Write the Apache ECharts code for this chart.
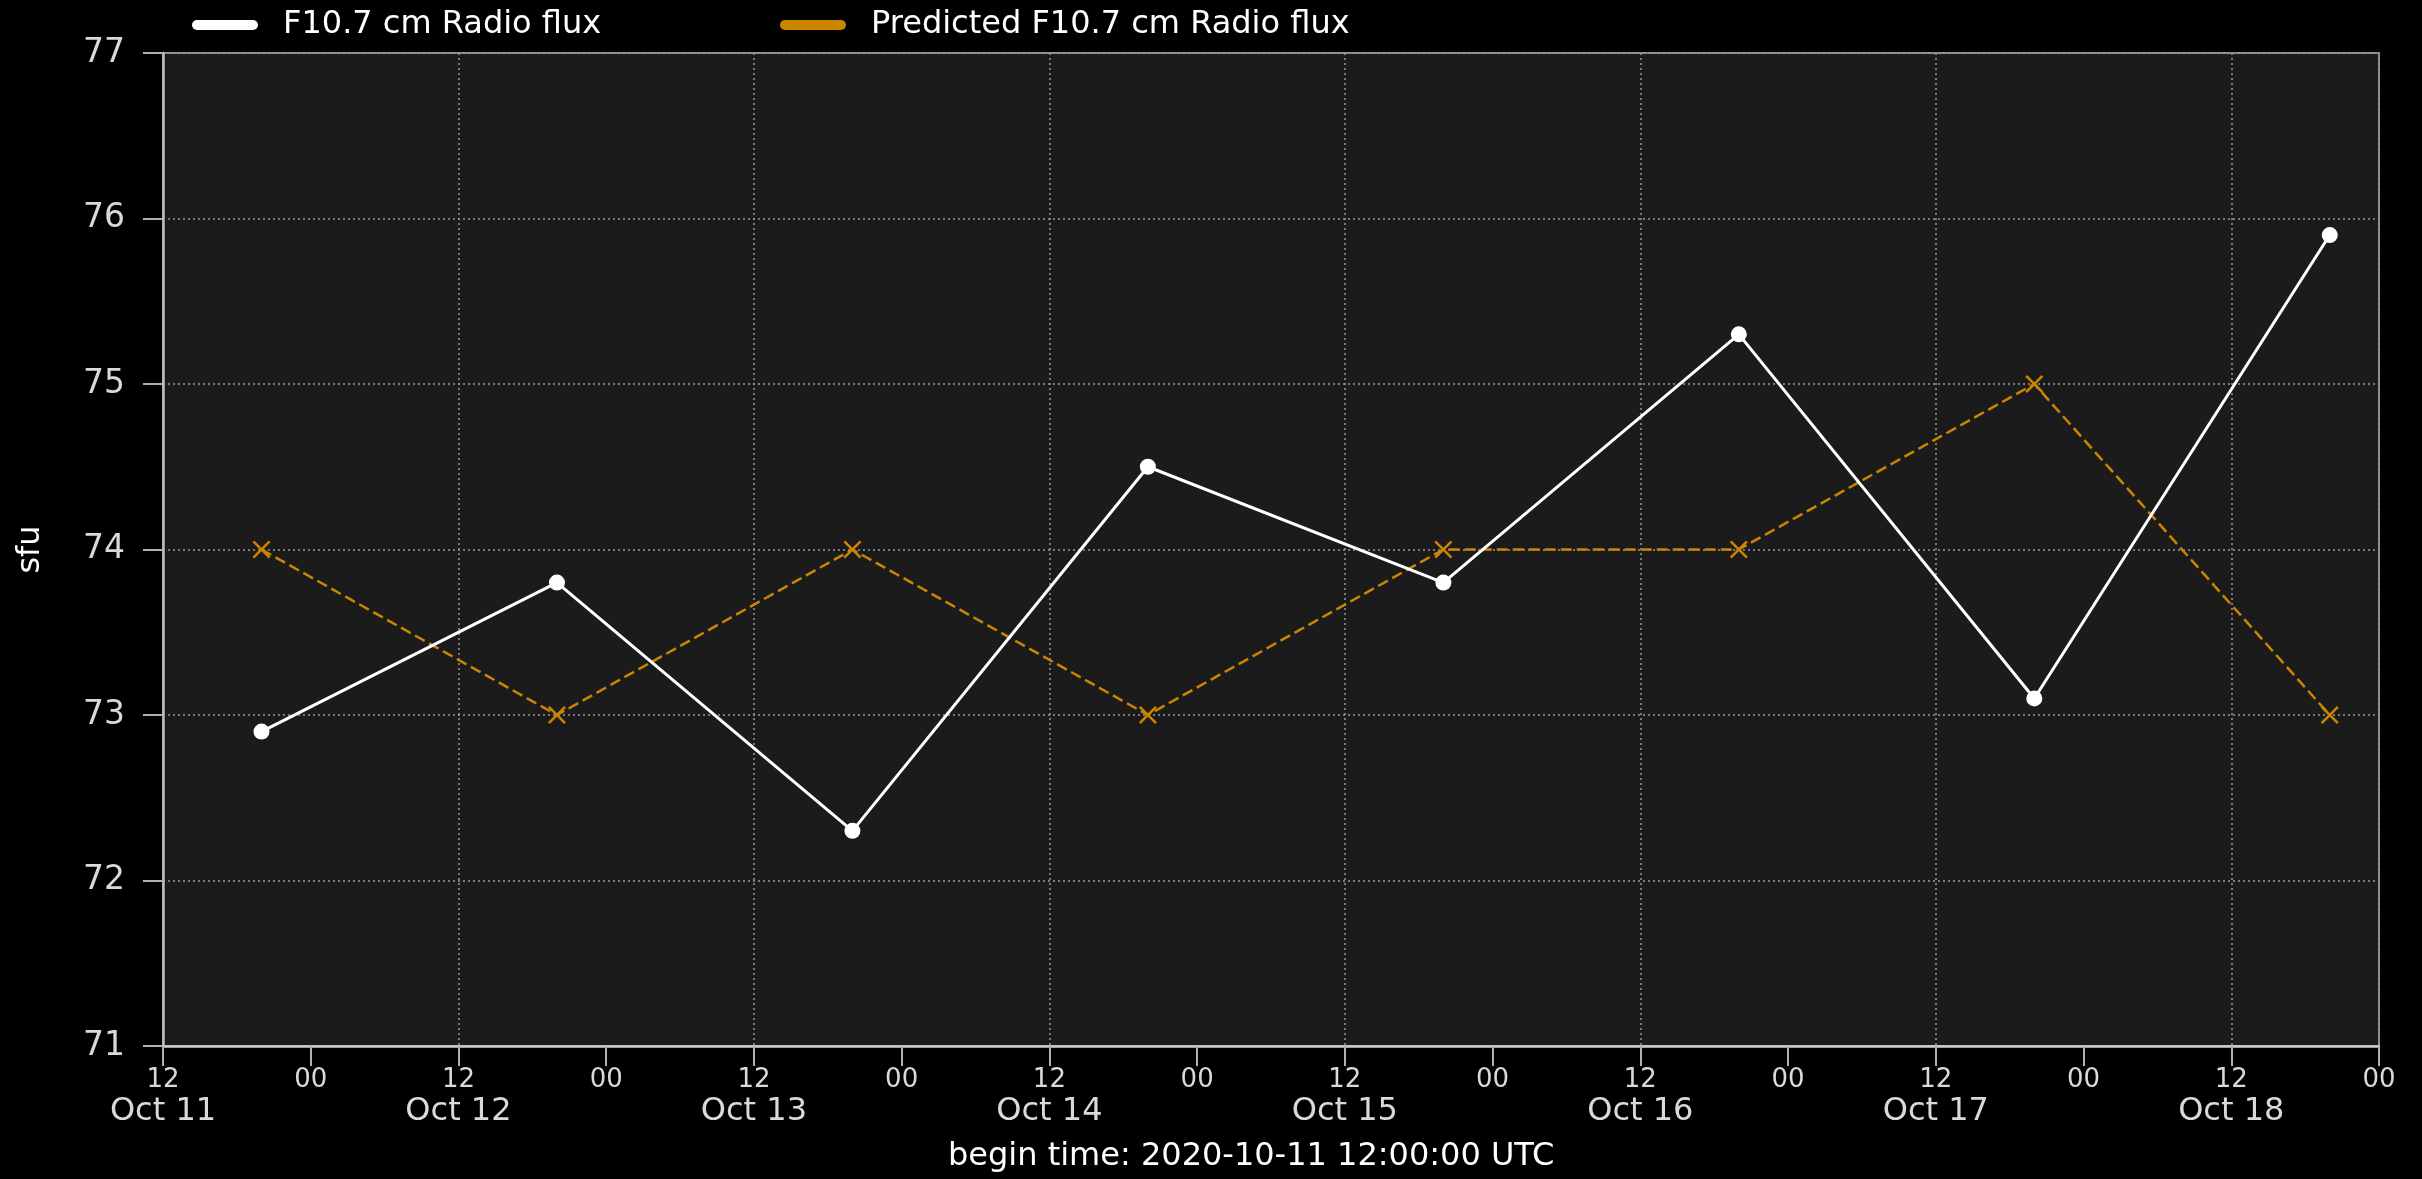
<!DOCTYPE html>
<html>
<head>
<meta charset="utf-8">
<script src="https://cdn.jsdelivr.net/npm/echarts@6/dist/echarts.min.js"></script>
<style>
html,body{margin:0;padding:0;background:#000;}
#chart{width:2422px;height:1179px;}
</style>
</head>
<body>
<div id="chart"></div>
<script>
const seriesNames = ['F10.7 cm Radio flux', 'Predicted F10.7 cm Radio flux'];
const times = ['2020-10-11T20:00:00Z','2020-10-12T20:00:00Z','2020-10-13T20:00:00Z','2020-10-14T20:00:00Z',
               '2020-10-15T20:00:00Z','2020-10-16T20:00:00Z','2020-10-17T20:00:00Z','2020-10-18T20:00:00Z'];
const observed = [72.9, 73.8, 72.3, 74.5, 73.8, 75.3, 73.1, 75.9];
const predicted = [74, 73, 74, 73, 74, 74, 75, 73];
const xStart = '2020-10-11T12:00:00Z';
const xEnd = '2020-10-19T00:00:00Z';
const yMin = 71, yMax = 77, yStep = 1;
const yName = 'sfu';
const xTitle = 'begin time: 2020-10-11 12:00:00 UTC';
const months = ['Jan','Feb','Mar','Apr','May','Jun','Jul','Aug','Sep','Oct','Nov','Dec'];

const H = 3600 * 1000;
const t0 = Date.parse(xStart), t1 = Date.parse(xEnd);
const obsData = times.map((t, i) => [Date.parse(t), observed[i]]);
const predData = times.map((t, i) => [Date.parse(t), predicted[i]]);

const FONT = 'DejaVu Sans';
const ORANGE = '#cc8500';
const xMark = 'path://M0,10 L10,0 L50,40 L90,0 L100,10 L60,50 L100,90 L90,100 L50,60 L10,100 L0,90 L40,50 Z';
const pill = 'path://M5,0 L61,0 A5,5 0 0 1 61,10 L5,10 A5,5 0 0 1 5,0 Z';

const chart = echarts.init(document.getElementById('chart'));
chart.setOption({
  backgroundColor: '#000',
  animation: false,
  textStyle: { fontFamily: FONT },
  legend: [
    { left: 187, top: 4, itemWidth: 66, itemHeight: 10,
      data: [{ name: seriesNames[0], icon: pill, itemStyle: { color: '#fff', borderWidth: 0 } }],
      textStyle: { color: '#fff', fontSize: 32, fontFamily: FONT, padding: [0, 0, 0, 20] } },
    { left: 775, top: 4, itemWidth: 66, itemHeight: 10,
      data: [{ name: seriesNames[1], icon: pill, itemStyle: { color: ORANGE, borderWidth: 0 } }],
      textStyle: { color: '#fff', fontSize: 32, fontFamily: FONT, padding: [0, 0, 0, 20] } }
  ],
  grid: { left: 163, right: 43, top: 53, bottom: 133, show: true, outerBoundsMode: 'none', containLabel: false,
          backgroundColor: '#1b1b1b', borderColor: '#8a8a8a', borderWidth: 2 },
  xAxis: [
    { type: 'value', min: t0, max: t1, interval: 12 * H,
      axisLine: { show: true, lineStyle: { color: '#d0d0d0', width: 2.5 } },
      axisTick: { show: true, length: 20, lineStyle: { color: '#b0b0b0', width: 2 } },
      splitLine: { show: false },
      axisLabel: { show: true, margin: 19, color: '#d9d9d9', showMinLabel: true, showMaxLabel: true,
        formatter: function (v) {
          const d = new Date(v);
          const h = d.getUTCHours();
          const hs = (h < 10 ? '0' : '') + h;
          if (h === 12) return '{h|' + hs + '}\n{d|' + months[d.getUTCMonth()] + ' ' + d.getUTCDate() + '}';
          return '{h|' + hs + '}';
        },
        rich: { h: { fontSize: 26, lineHeight: 30, color: '#d9d9d9', fontFamily: FONT },
                d: { fontSize: 32, lineHeight: 34, color: '#d9d9d9', fontFamily: FONT } } } },
    { type: 'value', min: t0, max: t1, interval: 24 * H, position: 'bottom',
      axisLine: { show: false }, axisTick: { show: false }, axisLabel: { show: false },
      splitLine: { show: true, lineStyle: { color: '#9a9a9a', width: 1.5, type: [2, 3] } } }
  ],
  yAxis: {
    type: 'value', min: yMin, max: yMax, interval: yStep,
    name: yName, nameLocation: 'middle', nameGap: 116, nameRotate: 90,
    nameTextStyle: { color: '#fff', fontSize: 32, fontFamily: FONT },
    axisLine: { show: true, lineStyle: { color: '#bdbdbd', width: 2.5 } },
    axisTick: { show: true, length: 20, lineStyle: { color: '#b0b0b0', width: 2 } },
    axisLabel: { margin: 38, color: '#d9d9d9', fontSize: 33, fontFamily: FONT },
    splitLine: { show: true, lineStyle: { color: '#9a9a9a', width: 1.5, type: [2, 3] } }
  },
  graphic: [
    { type: 'text', left: 948, top: 1141,
      style: { text: xTitle, fill: '#fff', font: '32px "DejaVu Sans"' } }
  ],
  series: [
    { name: seriesNames[1], type: 'line', data: predData, xAxisIndex: 0,
      symbol: xMark, symbolSize: 18, showAllSymbol: true,
      lineStyle: { color: ORANGE, width: 2.5, type: [11, 5] },
      itemStyle: { color: ORANGE, borderWidth: 0 }, z: 3 },
    { name: seriesNames[0], type: 'line', data: obsData, xAxisIndex: 0,
      symbol: 'circle', symbolSize: 16, showAllSymbol: true,
      lineStyle: { color: '#fff', width: 3 },
      itemStyle: { color: '#fff', borderWidth: 0 }, z: 4 }
  ]
});
</script>
</body>
</html>
